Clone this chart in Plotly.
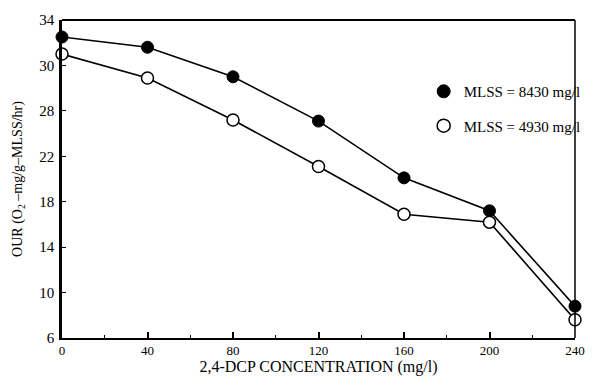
import plotly.graph_objects as go

conc = [0, 40, 80, 120, 160, 200, 240]
our_8430 = [32.5, 31.6, 29.0, 25.1, 20.1, 17.2, 8.8]
our_4930 = [31.0, 28.9, 25.2, 21.1, 16.9, 16.2, 7.6]
y_tickvals = [6, 10, 14, 18, 22, 26, 30, 34]
y_ticktext = ["6", "10", "14", "18", "22", "28", "30", "34"]
x_tickvals = [0, 40, 80, 120, 160, 200, 240]
name_a = "MLSS = 8430 mg/l"
name_b = "MLSS = 4930 mg/l"

FONT = "Liberation Serif, Times New Roman, serif"

fig = go.Figure()
fig.add_trace(go.Scatter(
    x=conc, y=our_8430, mode="lines+markers", showlegend=False,
    line=dict(color="black", width=1.6),
    marker=dict(symbol="circle", size=12, color="black", line=dict(color="black", width=1)),
    cliponaxis=False))
fig.add_trace(go.Scatter(
    x=conc, y=our_4930, mode="lines+markers", showlegend=False,
    line=dict(color="black", width=1.6),
    marker=dict(symbol="circle", size=12, color="white", line=dict(color="black", width=1.5)),
    cliponaxis=False))
# legend-only entries
fig.add_trace(go.Scatter(
    x=[None], y=[None], mode="markers", name=name_a, legend="legend",
    marker=dict(symbol="circle", size=13, color="black", line=dict(color="black", width=1))))
fig.add_trace(go.Scatter(
    x=[None], y=[None], mode="markers", name=name_b, legend="legend2",
    marker=dict(symbol="circle", size=13, color="white", line=dict(color="black", width=1.5))))

fig.update_layout(
    width=598, height=385,
    margin=dict(l=62, r=14, t=17, b=44),
    paper_bgcolor="white", plot_bgcolor="white",
    font=dict(family=FONT, color="black", size=13),
    legend=dict(x=0.705, y=0.775, xanchor="left", yanchor="middle",
                bgcolor="rgba(0,0,0,0)", font=dict(size=15, family=FONT),
                itemwidth=30),
    legend2=dict(x=0.705, y=0.667, xanchor="left", yanchor="middle",
                 bgcolor="rgba(0,0,0,0)", font=dict(size=15, family=FONT),
                 itemwidth=30),
    xaxis=dict(
        range=[0, 240], tickvals=x_tickvals, ticks="inside", ticklen=6,
        tickwidth=1.5, tickcolor="black",
        showline=True, linecolor="black", linewidth=1.5, showgrid=False, zeroline=False,
        tickfont=dict(size=13),
        minor=dict(dtick=20, ticks="inside", ticklen=3, tickwidth=1.2, tickcolor="black", showgrid=False),
        title=dict(text="2,4-DCP CONCENTRATION (mg/l)", font=dict(size=16), standoff=3),
    ),
    yaxis=dict(
        range=[6, 34], tickvals=y_tickvals, ticktext=y_ticktext, ticks="inside", ticklen=4,
        tickwidth=1.2, tickcolor="black",
        showline=True, linecolor="black", linewidth=2.5, showgrid=False, zeroline=False,
        tickfont=dict(size=15), ticklabelstandoff=2,
        title=dict(text="OUR (O<sub>2</sub> –mg/g–MLSS/hr)", font=dict(size=14), standoff=14),
    ),
    shapes=[
        dict(type="line", xref="paper", yref="paper", x0=0, x1=1, y0=1, y1=1,
             line=dict(color="black", width=1.8)),
        dict(type="line", xref="paper", yref="paper", x0=1, x1=1, y0=0, y1=1,
             line=dict(color="black", width=1.5)),
    ],
)

fig.write_html("out.html")
